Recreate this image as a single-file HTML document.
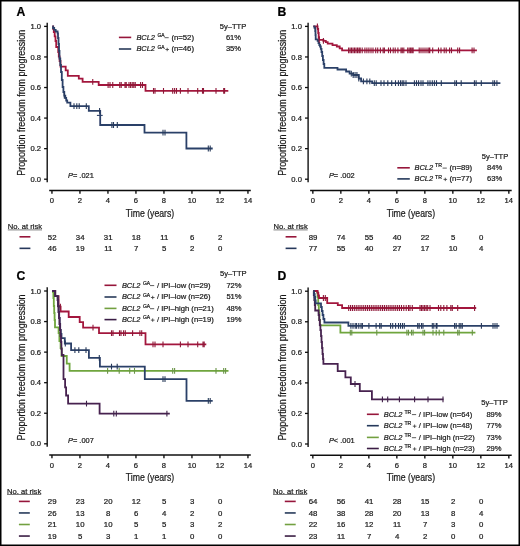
<!DOCTYPE html><html><head><meta charset="utf-8"><style>html,body{margin:0;padding:0;background:#fff}svg{display:block;will-change:transform}text{font-family:"Liberation Sans",sans-serif}</style></head><body>
<svg width="520" height="546" viewBox="0 0 520 546">
<defs><filter id="bl" x="0" y="0" width="1" height="1"><feGaussianBlur stdDeviation="0.3"/></filter></defs>
<rect x="0" y="0" width="520" height="546" fill="#fff"/>
<g filter="url(#bl)">
<line x1="47.20" y1="22.70" x2="47.20" y2="182.20" stroke="#111" stroke-width="1.4"/>
<line x1="44.10" y1="26.40" x2="47.20" y2="26.40" stroke="#111" stroke-width="1.3"/>
<text x="41.00" y="29.00" font-size="7.6" text-anchor="end" fill="#1a1a1a" stroke="#1a1a1a" stroke-width="0.22" >1.0</text>
<line x1="44.10" y1="56.96" x2="47.20" y2="56.96" stroke="#111" stroke-width="1.3"/>
<text x="41.00" y="59.56" font-size="7.6" text-anchor="end" fill="#1a1a1a" stroke="#1a1a1a" stroke-width="0.22" >0.8</text>
<line x1="44.10" y1="87.52" x2="47.20" y2="87.52" stroke="#111" stroke-width="1.3"/>
<text x="41.00" y="90.12" font-size="7.6" text-anchor="end" fill="#1a1a1a" stroke="#1a1a1a" stroke-width="0.22" >0.6</text>
<line x1="44.10" y1="118.08" x2="47.20" y2="118.08" stroke="#111" stroke-width="1.3"/>
<text x="41.00" y="120.68" font-size="7.6" text-anchor="end" fill="#1a1a1a" stroke="#1a1a1a" stroke-width="0.22" >0.4</text>
<line x1="44.10" y1="148.64" x2="47.20" y2="148.64" stroke="#111" stroke-width="1.3"/>
<text x="41.00" y="151.24" font-size="7.6" text-anchor="end" fill="#1a1a1a" stroke="#1a1a1a" stroke-width="0.22" >0.2</text>
<line x1="44.10" y1="179.20" x2="47.20" y2="179.20" stroke="#111" stroke-width="1.3"/>
<text x="41.00" y="181.80" font-size="7.6" text-anchor="end" fill="#1a1a1a" stroke="#1a1a1a" stroke-width="0.22" >0.0</text>
<line x1="49.20" y1="190.45" x2="250.80" y2="190.45" stroke="#111" stroke-width="1.6"/>
<line x1="51.95" y1="190.40" x2="51.95" y2="193.70" stroke="#111" stroke-width="1.4"/>
<text x="51.95" y="203.40" font-size="7.6" text-anchor="middle" fill="#1a1a1a" stroke="#1a1a1a" stroke-width="0.22" >0</text>
<line x1="79.95" y1="190.40" x2="79.95" y2="193.70" stroke="#111" stroke-width="1.4"/>
<text x="79.95" y="203.40" font-size="7.6" text-anchor="middle" fill="#1a1a1a" stroke="#1a1a1a" stroke-width="0.22" >2</text>
<line x1="107.95" y1="190.40" x2="107.95" y2="193.70" stroke="#111" stroke-width="1.4"/>
<text x="107.95" y="203.40" font-size="7.6" text-anchor="middle" fill="#1a1a1a" stroke="#1a1a1a" stroke-width="0.22" >4</text>
<line x1="135.95" y1="190.40" x2="135.95" y2="193.70" stroke="#111" stroke-width="1.4"/>
<text x="135.95" y="203.40" font-size="7.6" text-anchor="middle" fill="#1a1a1a" stroke="#1a1a1a" stroke-width="0.22" >6</text>
<line x1="163.95" y1="190.40" x2="163.95" y2="193.70" stroke="#111" stroke-width="1.4"/>
<text x="163.95" y="203.40" font-size="7.6" text-anchor="middle" fill="#1a1a1a" stroke="#1a1a1a" stroke-width="0.22" >8</text>
<line x1="191.95" y1="190.40" x2="191.95" y2="193.70" stroke="#111" stroke-width="1.4"/>
<text x="191.95" y="203.40" font-size="7.6" text-anchor="middle" fill="#1a1a1a" stroke="#1a1a1a" stroke-width="0.22" >10</text>
<line x1="219.95" y1="190.40" x2="219.95" y2="193.70" stroke="#111" stroke-width="1.4"/>
<text x="219.95" y="203.40" font-size="7.6" text-anchor="middle" fill="#1a1a1a" stroke="#1a1a1a" stroke-width="0.22" >12</text>
<line x1="247.95" y1="190.40" x2="247.95" y2="193.70" stroke="#111" stroke-width="1.4"/>
<text x="247.95" y="203.40" font-size="7.6" text-anchor="middle" fill="#1a1a1a" stroke="#1a1a1a" stroke-width="0.22" >14</text>
<text x="150.00" y="216.50" font-size="10" text-anchor="middle" textLength="48.4" lengthAdjust="spacingAndGlyphs" fill="#1a1a1a" stroke="#1a1a1a" stroke-width="0.22" >Time (years)</text>
<text transform="translate(24.80,102.80) rotate(-90)" font-size="10" text-anchor="middle" textLength="146" lengthAdjust="spacingAndGlyphs" fill="#1a1a1a" stroke="#1a1a1a" stroke-width="0.22">Proportion freedom from progression</text>
<text x="16.60" y="15.60" font-size="12.2" font-weight="bold" fill="#000" stroke="#000" stroke-width="0.22" >A</text>
<text x="219.80" y="28.80" font-size="7.8" textLength="26.5" lengthAdjust="spacingAndGlyphs" fill="#1a1a1a" stroke="#1a1a1a" stroke-width="0.22" >5y&#8211;TTP</text>
<line x1="118.90" y1="37.40" x2="131.20" y2="37.40" stroke="#96143a" stroke-width="1.6"/>
<text x="136.40" y="39.75" font-size="7.8" font-style="italic" textLength="18.6" lengthAdjust="spacingAndGlyphs" fill="#1a1a1a" stroke="#1a1a1a" stroke-width="0.22" >BCL2</text>
<text x="157.40" y="37.00" font-size="5.0" textLength="7.2" lengthAdjust="spacingAndGlyphs" fill="#1a1a1a" stroke="#1a1a1a" stroke-width="0.22" >GA</text>
<line x1="164.50" y1="37.70" x2="168.70" y2="37.70" stroke="#333" stroke-width="0.8"/>
<text x="171.40" y="39.75" font-size="7.8" textLength="22.6" lengthAdjust="spacingAndGlyphs" fill="#1a1a1a" stroke="#1a1a1a" stroke-width="0.22" >(n=52)</text>
<text x="225.90" y="39.75" font-size="7.8" textLength="15.2" lengthAdjust="spacingAndGlyphs" fill="#1a1a1a" stroke="#1a1a1a" stroke-width="0.22" >61%</text>
<line x1="118.90" y1="49.00" x2="131.20" y2="49.00" stroke="#26395a" stroke-width="1.6"/>
<text x="136.40" y="51.35" font-size="7.8" font-style="italic" textLength="18.6" lengthAdjust="spacingAndGlyphs" fill="#1a1a1a" stroke="#1a1a1a" stroke-width="0.22" >BCL2</text>
<text x="157.40" y="48.60" font-size="5.0" textLength="7.2" lengthAdjust="spacingAndGlyphs" fill="#1a1a1a" stroke="#1a1a1a" stroke-width="0.22" >GA</text>
<line x1="165.40" y1="49.50" x2="169.00" y2="49.50" stroke="#333" stroke-width="0.8"/>
<line x1="167.20" y1="47.80" x2="167.20" y2="51.20" stroke="#333" stroke-width="0.8"/>
<text x="171.40" y="51.35" font-size="7.8" textLength="22.6" lengthAdjust="spacingAndGlyphs" fill="#1a1a1a" stroke="#1a1a1a" stroke-width="0.22" >(n=46)</text>
<text x="225.90" y="51.35" font-size="7.8" textLength="15.2" lengthAdjust="spacingAndGlyphs" fill="#1a1a1a" stroke="#1a1a1a" stroke-width="0.22" >35%</text>
<text x="68.00" y="178.20" font-size="7.8" textLength="25.8" lengthAdjust="spacingAndGlyphs" fill="#1a1a1a" stroke="#1a1a1a" stroke-width="0.22" ><tspan font-style="italic">P</tspan>= .021</text>
<path d="M52.30,26.40H53.20V29.00H53.80V32.00H54.70V36.30H55.50V41.00H56.20V47.00H58.20V52.00H58.80V56.50H59.60V61.00H60.50V66.70H65.70V70.40H67.80V75.80H78.80V78.70H82.60V81.80H98.70V85.00H145.50V90.80H228.30" fill="none" stroke="#a3173c" stroke-width="1.8"/>
<path d="M52.30,26.40H53.00V28.00H54.20V29.80H55.70V31.50H57.60V33.50H58.00V38.00H58.50V44.00H59.00V51.00H59.50V58.50H60.30V65.00H61.00V72.00H61.80V80.00H62.60V87.00H63.40V92.00H64.30V95.60H65.30V98.00H66.20V100.50H67.20V102.70H70.40V106.20H88.80V110.80H100.20V125.00H144.50V132.70H186.40V148.50H212.70" fill="none" stroke="#2c4068" stroke-width="1.8"/>
<path d="M92.75,78.90v5.8M108.10,82.10v5.8M110.00,82.10v5.8M112.75,82.10v5.8M119.75,82.10v5.8M121.25,82.10v5.8M125.00,82.10v5.8M126.25,82.10v5.8M129.00,82.10v5.8M130.60,82.10v5.8M132.25,82.10v5.8M133.75,82.10v5.8M135.25,82.10v5.8M140.60,82.10v5.8M142.50,82.10v5.8M153.50,87.90v5.8M155.00,87.90v5.8M163.50,87.90v5.8M172.70,87.90v5.8M174.60,87.90v5.8M176.50,87.90v5.8M180.40,87.90v5.8M188.00,87.90v5.8M197.70,87.90v5.8M202.50,87.90v5.8M203.50,87.90v5.8M216.00,87.90v5.8M223.70,87.90v5.8M224.60,87.90v5.8" fill="none" stroke="#8e1838" stroke-width="1.1"/>
<path d="M64.30,92.70v5.8M74.00,103.30v5.8M76.80,103.30v5.8M79.20,103.30v5.8M86.30,103.30v5.8M99.60,107.90v5.8M111.90,122.10v5.8M113.50,122.10v5.8M117.30,122.10v5.8M163.00,129.80v5.8M165.00,129.80v5.8M208.30,145.60v5.8M210.20,145.60v5.8" fill="none" stroke="#27395a" stroke-width="1.1"/>
<line x1="96.90" y1="115.40" x2="102.70" y2="115.40" stroke="#2c4068" stroke-width="1.1"/>
<text x="7.80" y="229.30" font-size="7.8" textLength="34.2" lengthAdjust="spacingAndGlyphs" fill="#1a1a1a" stroke="#1a1a1a" stroke-width="0.22" >No. at risk</text>
<line x1="7.80" y1="229.90" x2="42.00" y2="229.90" stroke="#444" stroke-width="0.7"/>
<line x1="19.50" y1="236.80" x2="30.40" y2="236.80" stroke="#96143a" stroke-width="1.6"/>
<text x="52.20" y="239.50" font-size="7.8" text-anchor="middle" fill="#1a1a1a" stroke="#1a1a1a" stroke-width="0.22" >52</text>
<text x="80.20" y="239.50" font-size="7.8" text-anchor="middle" fill="#1a1a1a" stroke="#1a1a1a" stroke-width="0.22" >34</text>
<text x="108.20" y="239.50" font-size="7.8" text-anchor="middle" fill="#1a1a1a" stroke="#1a1a1a" stroke-width="0.22" >31</text>
<text x="136.20" y="239.50" font-size="7.8" text-anchor="middle" fill="#1a1a1a" stroke="#1a1a1a" stroke-width="0.22" >18</text>
<text x="164.20" y="239.50" font-size="7.8" text-anchor="middle" fill="#1a1a1a" stroke="#1a1a1a" stroke-width="0.22" >11</text>
<text x="192.20" y="239.50" font-size="7.8" text-anchor="middle" fill="#1a1a1a" stroke="#1a1a1a" stroke-width="0.22" >6</text>
<text x="220.20" y="239.50" font-size="7.8" text-anchor="middle" fill="#1a1a1a" stroke="#1a1a1a" stroke-width="0.22" >2</text>
<line x1="19.50" y1="248.35" x2="30.40" y2="248.35" stroke="#26395a" stroke-width="1.6"/>
<text x="52.20" y="251.05" font-size="7.8" text-anchor="middle" fill="#1a1a1a" stroke="#1a1a1a" stroke-width="0.22" >46</text>
<text x="80.20" y="251.05" font-size="7.8" text-anchor="middle" fill="#1a1a1a" stroke="#1a1a1a" stroke-width="0.22" >19</text>
<text x="108.20" y="251.05" font-size="7.8" text-anchor="middle" fill="#1a1a1a" stroke="#1a1a1a" stroke-width="0.22" >11</text>
<text x="136.20" y="251.05" font-size="7.8" text-anchor="middle" fill="#1a1a1a" stroke="#1a1a1a" stroke-width="0.22" >7</text>
<text x="164.20" y="251.05" font-size="7.8" text-anchor="middle" fill="#1a1a1a" stroke="#1a1a1a" stroke-width="0.22" >5</text>
<text x="192.20" y="251.05" font-size="7.8" text-anchor="middle" fill="#1a1a1a" stroke="#1a1a1a" stroke-width="0.22" >2</text>
<text x="220.20" y="251.05" font-size="7.8" text-anchor="middle" fill="#1a1a1a" stroke="#1a1a1a" stroke-width="0.22" >0</text>
<line x1="308.10" y1="22.70" x2="308.10" y2="182.20" stroke="#111" stroke-width="1.4"/>
<line x1="305.00" y1="26.40" x2="308.10" y2="26.40" stroke="#111" stroke-width="1.3"/>
<text x="301.90" y="29.00" font-size="7.6" text-anchor="end" fill="#1a1a1a" stroke="#1a1a1a" stroke-width="0.22" >1.0</text>
<line x1="305.00" y1="56.96" x2="308.10" y2="56.96" stroke="#111" stroke-width="1.3"/>
<text x="301.90" y="59.56" font-size="7.6" text-anchor="end" fill="#1a1a1a" stroke="#1a1a1a" stroke-width="0.22" >0.8</text>
<line x1="305.00" y1="87.52" x2="308.10" y2="87.52" stroke="#111" stroke-width="1.3"/>
<text x="301.90" y="90.12" font-size="7.6" text-anchor="end" fill="#1a1a1a" stroke="#1a1a1a" stroke-width="0.22" >0.6</text>
<line x1="305.00" y1="118.08" x2="308.10" y2="118.08" stroke="#111" stroke-width="1.3"/>
<text x="301.90" y="120.68" font-size="7.6" text-anchor="end" fill="#1a1a1a" stroke="#1a1a1a" stroke-width="0.22" >0.4</text>
<line x1="305.00" y1="148.64" x2="308.10" y2="148.64" stroke="#111" stroke-width="1.3"/>
<text x="301.90" y="151.24" font-size="7.6" text-anchor="end" fill="#1a1a1a" stroke="#1a1a1a" stroke-width="0.22" >0.2</text>
<line x1="305.00" y1="179.20" x2="308.10" y2="179.20" stroke="#111" stroke-width="1.3"/>
<text x="301.90" y="181.80" font-size="7.6" text-anchor="end" fill="#1a1a1a" stroke="#1a1a1a" stroke-width="0.22" >0.0</text>
<line x1="310.10" y1="190.45" x2="511.70" y2="190.45" stroke="#111" stroke-width="1.6"/>
<line x1="312.85" y1="190.40" x2="312.85" y2="193.70" stroke="#111" stroke-width="1.4"/>
<text x="312.85" y="203.40" font-size="7.6" text-anchor="middle" fill="#1a1a1a" stroke="#1a1a1a" stroke-width="0.22" >0</text>
<line x1="340.85" y1="190.40" x2="340.85" y2="193.70" stroke="#111" stroke-width="1.4"/>
<text x="340.85" y="203.40" font-size="7.6" text-anchor="middle" fill="#1a1a1a" stroke="#1a1a1a" stroke-width="0.22" >2</text>
<line x1="368.85" y1="190.40" x2="368.85" y2="193.70" stroke="#111" stroke-width="1.4"/>
<text x="368.85" y="203.40" font-size="7.6" text-anchor="middle" fill="#1a1a1a" stroke="#1a1a1a" stroke-width="0.22" >4</text>
<line x1="396.85" y1="190.40" x2="396.85" y2="193.70" stroke="#111" stroke-width="1.4"/>
<text x="396.85" y="203.40" font-size="7.6" text-anchor="middle" fill="#1a1a1a" stroke="#1a1a1a" stroke-width="0.22" >6</text>
<line x1="424.85" y1="190.40" x2="424.85" y2="193.70" stroke="#111" stroke-width="1.4"/>
<text x="424.85" y="203.40" font-size="7.6" text-anchor="middle" fill="#1a1a1a" stroke="#1a1a1a" stroke-width="0.22" >8</text>
<line x1="452.85" y1="190.40" x2="452.85" y2="193.70" stroke="#111" stroke-width="1.4"/>
<text x="452.85" y="203.40" font-size="7.6" text-anchor="middle" fill="#1a1a1a" stroke="#1a1a1a" stroke-width="0.22" >10</text>
<line x1="480.85" y1="190.40" x2="480.85" y2="193.70" stroke="#111" stroke-width="1.4"/>
<text x="480.85" y="203.40" font-size="7.6" text-anchor="middle" fill="#1a1a1a" stroke="#1a1a1a" stroke-width="0.22" >12</text>
<line x1="508.85" y1="190.40" x2="508.85" y2="193.70" stroke="#111" stroke-width="1.4"/>
<text x="508.85" y="203.40" font-size="7.6" text-anchor="middle" fill="#1a1a1a" stroke="#1a1a1a" stroke-width="0.22" >14</text>
<text x="410.90" y="216.50" font-size="10" text-anchor="middle" textLength="48.4" lengthAdjust="spacingAndGlyphs" fill="#1a1a1a" stroke="#1a1a1a" stroke-width="0.22" >Time (years)</text>
<text transform="translate(285.70,102.80) rotate(-90)" font-size="10" text-anchor="middle" textLength="146" lengthAdjust="spacingAndGlyphs" fill="#1a1a1a" stroke="#1a1a1a" stroke-width="0.22">Proportion freedom from progression</text>
<text x="277.50" y="15.60" font-size="12.2" font-weight="bold" fill="#000" stroke="#000" stroke-width="0.22" >B</text>
<text x="481.70" y="158.70" font-size="7.8" textLength="26.5" lengthAdjust="spacingAndGlyphs" fill="#1a1a1a" stroke="#1a1a1a" stroke-width="0.22" >5y&#8211;TTP</text>
<line x1="397.30" y1="167.80" x2="409.80" y2="167.80" stroke="#96143a" stroke-width="1.6"/>
<text x="414.50" y="170.15" font-size="7.8" font-style="italic" textLength="18.6" lengthAdjust="spacingAndGlyphs" fill="#1a1a1a" stroke="#1a1a1a" stroke-width="0.22" >BCL2</text>
<text x="435.10" y="167.40" font-size="5.0" textLength="6.9" lengthAdjust="spacingAndGlyphs" fill="#1a1a1a" stroke="#1a1a1a" stroke-width="0.22" >TR</text>
<line x1="442.60" y1="168.10" x2="446.80" y2="168.10" stroke="#333" stroke-width="0.8"/>
<text x="449.50" y="170.15" font-size="7.8" textLength="22.6" lengthAdjust="spacingAndGlyphs" fill="#1a1a1a" stroke="#1a1a1a" stroke-width="0.22" >(n=89)</text>
<text x="487.00" y="170.15" font-size="7.8" textLength="15.2" lengthAdjust="spacingAndGlyphs" fill="#1a1a1a" stroke="#1a1a1a" stroke-width="0.22" >84%</text>
<line x1="397.30" y1="178.90" x2="409.80" y2="178.90" stroke="#26395a" stroke-width="1.6"/>
<text x="414.50" y="181.25" font-size="7.8" font-style="italic" textLength="18.6" lengthAdjust="spacingAndGlyphs" fill="#1a1a1a" stroke="#1a1a1a" stroke-width="0.22" >BCL2</text>
<text x="435.10" y="178.50" font-size="5.0" textLength="6.9" lengthAdjust="spacingAndGlyphs" fill="#1a1a1a" stroke="#1a1a1a" stroke-width="0.22" >TR</text>
<line x1="443.50" y1="179.40" x2="447.10" y2="179.40" stroke="#333" stroke-width="0.8"/>
<line x1="445.30" y1="177.70" x2="445.30" y2="181.10" stroke="#333" stroke-width="0.8"/>
<text x="449.50" y="181.25" font-size="7.8" textLength="22.6" lengthAdjust="spacingAndGlyphs" fill="#1a1a1a" stroke="#1a1a1a" stroke-width="0.22" >(n=77)</text>
<text x="487.00" y="181.25" font-size="7.8" textLength="15.2" lengthAdjust="spacingAndGlyphs" fill="#1a1a1a" stroke="#1a1a1a" stroke-width="0.22" >63%</text>
<text x="328.90" y="178.20" font-size="7.8" textLength="25.8" lengthAdjust="spacingAndGlyphs" fill="#1a1a1a" stroke="#1a1a1a" stroke-width="0.22" ><tspan font-style="italic">P</tspan>= .002</text>
<path d="M313.30,26.40H317.60V29.00H318.20V33.00H318.70V37.00H319.00V39.80H323.40V40.80H325.80V42.20H327.70V43.60H332.50V45.10H336.80V46.50H339.70V48.40H342.10V50.40H476.90" fill="none" stroke="#a3173c" stroke-width="1.8"/>
<path d="M313.30,26.40H314.50V27.80H315.20V31.00H315.50V35.00H315.70V39.30H317.60V40.80H318.50V43.00H319.30V45.00H320.00V46.50H320.80V48.90H321.50V52.00H322.20V56.00H322.90V60.00H323.60V64.00H324.30V67.80H337.50V69.50H346.10V71.50H349.60V73.60H353.10V75.00H358.80V78.50H361.10V81.30H372.10V83.10H500.40" fill="none" stroke="#2c4068" stroke-width="1.8"/>
<path d="M317.40,23.50v5.8M319.20,36.90v5.8M323.40,37.90v5.8M348.60,47.50v5.8M350.09,47.50v5.8M351.57,47.50v5.8M353.06,47.50v5.8M354.54,47.50v5.8M356.03,47.50v5.8M357.51,47.50v5.8M359.00,47.50v5.8M360.20,47.50v5.8M362.20,47.50v5.8M364.90,47.50v5.8M366.90,47.50v5.8M368.90,47.50v5.8M371.00,47.50v5.8M373.00,47.50v5.8M375.70,47.50v5.8M377.70,47.50v5.8M380.40,47.50v5.8M383.10,47.50v5.8M384.40,47.50v5.8M388.50,47.50v5.8M390.50,47.50v5.8M393.20,47.50v5.8M395.20,47.50v5.8M397.90,47.50v5.8M401.00,47.50v5.8M402.30,47.50v5.8M403.80,47.50v5.8M407.70,47.50v5.8M409.20,47.50v5.8M410.60,47.50v5.8M411.90,47.50v5.8M413.10,47.50v5.8M419.20,47.50v5.8M421.00,47.50v5.8M423.00,47.50v5.8M425.00,47.50v5.8M427.00,47.50v5.8M428.80,47.50v5.8M429.80,47.50v5.8M432.70,47.50v5.8M438.50,47.50v5.8M441.00,47.50v5.8M444.20,47.50v5.8M446.20,47.50v5.8M449.60,47.50v5.8M451.50,47.50v5.8M457.70,47.50v5.8M459.60,47.50v5.8M472.10,47.50v5.8M474.00,47.50v5.8" fill="none" stroke="#8e1838" stroke-width="1.1"/>
<path d="M351.30,70.70v5.8M353.18,72.10v5.8M355.05,72.10v5.8M356.93,72.10v5.8M358.80,75.60v5.8M363.40,78.40v5.8M366.90,78.40v5.8M369.80,78.40v5.8M374.30,80.20v5.8M376.20,80.20v5.8M381.00,80.20v5.8M384.00,80.20v5.8M387.80,80.20v5.8M391.70,80.20v5.8M395.50,80.20v5.8M398.40,80.20v5.8M400.50,80.20v5.8M402.20,80.20v5.8M403.80,80.20v5.8M406.00,80.20v5.8M414.40,80.20v5.8M416.50,80.20v5.8M418.60,80.20v5.8M421.00,80.20v5.8M423.00,80.20v5.8M427.90,80.20v5.8M430.00,80.20v5.8M432.30,80.20v5.8M434.40,80.20v5.8M436.50,80.20v5.8M441.30,80.20v5.8M454.80,80.20v5.8M456.50,80.20v5.8M461.20,80.20v5.8M474.40,80.20v5.8M476.10,80.20v5.8M481.30,80.20v5.8M492.90,80.20v5.8M494.60,80.20v5.8M496.90,80.20v5.8" fill="none" stroke="#27395a" stroke-width="1.1"/>
<text x="273.50" y="229.30" font-size="7.8" textLength="34.2" lengthAdjust="spacingAndGlyphs" fill="#1a1a1a" stroke="#1a1a1a" stroke-width="0.22" >No. at risk</text>
<line x1="273.50" y1="229.90" x2="307.70" y2="229.90" stroke="#444" stroke-width="0.7"/>
<line x1="285.60" y1="236.80" x2="296.50" y2="236.80" stroke="#96143a" stroke-width="1.6"/>
<text x="313.10" y="239.50" font-size="7.8" text-anchor="middle" fill="#1a1a1a" stroke="#1a1a1a" stroke-width="0.22" >89</text>
<text x="341.10" y="239.50" font-size="7.8" text-anchor="middle" fill="#1a1a1a" stroke="#1a1a1a" stroke-width="0.22" >74</text>
<text x="369.10" y="239.50" font-size="7.8" text-anchor="middle" fill="#1a1a1a" stroke="#1a1a1a" stroke-width="0.22" >55</text>
<text x="397.10" y="239.50" font-size="7.8" text-anchor="middle" fill="#1a1a1a" stroke="#1a1a1a" stroke-width="0.22" >40</text>
<text x="425.10" y="239.50" font-size="7.8" text-anchor="middle" fill="#1a1a1a" stroke="#1a1a1a" stroke-width="0.22" >22</text>
<text x="453.10" y="239.50" font-size="7.8" text-anchor="middle" fill="#1a1a1a" stroke="#1a1a1a" stroke-width="0.22" >5</text>
<text x="481.10" y="239.50" font-size="7.8" text-anchor="middle" fill="#1a1a1a" stroke="#1a1a1a" stroke-width="0.22" >0</text>
<line x1="285.60" y1="248.35" x2="296.50" y2="248.35" stroke="#26395a" stroke-width="1.6"/>
<text x="313.10" y="251.05" font-size="7.8" text-anchor="middle" fill="#1a1a1a" stroke="#1a1a1a" stroke-width="0.22" >77</text>
<text x="341.10" y="251.05" font-size="7.8" text-anchor="middle" fill="#1a1a1a" stroke="#1a1a1a" stroke-width="0.22" >55</text>
<text x="369.10" y="251.05" font-size="7.8" text-anchor="middle" fill="#1a1a1a" stroke="#1a1a1a" stroke-width="0.22" >40</text>
<text x="397.10" y="251.05" font-size="7.8" text-anchor="middle" fill="#1a1a1a" stroke="#1a1a1a" stroke-width="0.22" >27</text>
<text x="425.10" y="251.05" font-size="7.8" text-anchor="middle" fill="#1a1a1a" stroke="#1a1a1a" stroke-width="0.22" >17</text>
<text x="453.10" y="251.05" font-size="7.8" text-anchor="middle" fill="#1a1a1a" stroke="#1a1a1a" stroke-width="0.22" >10</text>
<text x="481.10" y="251.05" font-size="7.8" text-anchor="middle" fill="#1a1a1a" stroke="#1a1a1a" stroke-width="0.22" >4</text>
<line x1="47.20" y1="287.30" x2="47.20" y2="446.80" stroke="#111" stroke-width="1.4"/>
<line x1="44.10" y1="291.00" x2="47.20" y2="291.00" stroke="#111" stroke-width="1.3"/>
<text x="41.00" y="293.60" font-size="7.6" text-anchor="end" fill="#1a1a1a" stroke="#1a1a1a" stroke-width="0.22" >1.0</text>
<line x1="44.10" y1="321.56" x2="47.20" y2="321.56" stroke="#111" stroke-width="1.3"/>
<text x="41.00" y="324.16" font-size="7.6" text-anchor="end" fill="#1a1a1a" stroke="#1a1a1a" stroke-width="0.22" >0.8</text>
<line x1="44.10" y1="352.12" x2="47.20" y2="352.12" stroke="#111" stroke-width="1.3"/>
<text x="41.00" y="354.72" font-size="7.6" text-anchor="end" fill="#1a1a1a" stroke="#1a1a1a" stroke-width="0.22" >0.6</text>
<line x1="44.10" y1="382.68" x2="47.20" y2="382.68" stroke="#111" stroke-width="1.3"/>
<text x="41.00" y="385.28" font-size="7.6" text-anchor="end" fill="#1a1a1a" stroke="#1a1a1a" stroke-width="0.22" >0.4</text>
<line x1="44.10" y1="413.24" x2="47.20" y2="413.24" stroke="#111" stroke-width="1.3"/>
<text x="41.00" y="415.84" font-size="7.6" text-anchor="end" fill="#1a1a1a" stroke="#1a1a1a" stroke-width="0.22" >0.2</text>
<line x1="44.10" y1="443.80" x2="47.20" y2="443.80" stroke="#111" stroke-width="1.3"/>
<text x="41.00" y="446.40" font-size="7.6" text-anchor="end" fill="#1a1a1a" stroke="#1a1a1a" stroke-width="0.22" >0.0</text>
<line x1="49.20" y1="455.05" x2="250.80" y2="455.05" stroke="#111" stroke-width="1.6"/>
<line x1="51.95" y1="455.00" x2="51.95" y2="458.30" stroke="#111" stroke-width="1.4"/>
<text x="51.95" y="468.00" font-size="7.6" text-anchor="middle" fill="#1a1a1a" stroke="#1a1a1a" stroke-width="0.22" >0</text>
<line x1="79.95" y1="455.00" x2="79.95" y2="458.30" stroke="#111" stroke-width="1.4"/>
<text x="79.95" y="468.00" font-size="7.6" text-anchor="middle" fill="#1a1a1a" stroke="#1a1a1a" stroke-width="0.22" >2</text>
<line x1="107.95" y1="455.00" x2="107.95" y2="458.30" stroke="#111" stroke-width="1.4"/>
<text x="107.95" y="468.00" font-size="7.6" text-anchor="middle" fill="#1a1a1a" stroke="#1a1a1a" stroke-width="0.22" >4</text>
<line x1="135.95" y1="455.00" x2="135.95" y2="458.30" stroke="#111" stroke-width="1.4"/>
<text x="135.95" y="468.00" font-size="7.6" text-anchor="middle" fill="#1a1a1a" stroke="#1a1a1a" stroke-width="0.22" >6</text>
<line x1="163.95" y1="455.00" x2="163.95" y2="458.30" stroke="#111" stroke-width="1.4"/>
<text x="163.95" y="468.00" font-size="7.6" text-anchor="middle" fill="#1a1a1a" stroke="#1a1a1a" stroke-width="0.22" >8</text>
<line x1="191.95" y1="455.00" x2="191.95" y2="458.30" stroke="#111" stroke-width="1.4"/>
<text x="191.95" y="468.00" font-size="7.6" text-anchor="middle" fill="#1a1a1a" stroke="#1a1a1a" stroke-width="0.22" >10</text>
<line x1="219.95" y1="455.00" x2="219.95" y2="458.30" stroke="#111" stroke-width="1.4"/>
<text x="219.95" y="468.00" font-size="7.6" text-anchor="middle" fill="#1a1a1a" stroke="#1a1a1a" stroke-width="0.22" >12</text>
<line x1="247.95" y1="455.00" x2="247.95" y2="458.30" stroke="#111" stroke-width="1.4"/>
<text x="247.95" y="468.00" font-size="7.6" text-anchor="middle" fill="#1a1a1a" stroke="#1a1a1a" stroke-width="0.22" >14</text>
<text x="150.00" y="481.10" font-size="10" text-anchor="middle" textLength="48.4" lengthAdjust="spacingAndGlyphs" fill="#1a1a1a" stroke="#1a1a1a" stroke-width="0.22" >Time (years)</text>
<text transform="translate(24.80,367.40) rotate(-90)" font-size="10" text-anchor="middle" textLength="146" lengthAdjust="spacingAndGlyphs" fill="#1a1a1a" stroke="#1a1a1a" stroke-width="0.22">Proportion freedom from progression</text>
<text x="16.60" y="280.20" font-size="12.2" font-weight="bold" fill="#000" stroke="#000" stroke-width="0.22" >C</text>
<text x="220.10" y="276.40" font-size="7.8" textLength="26.5" lengthAdjust="spacingAndGlyphs" fill="#1a1a1a" stroke="#1a1a1a" stroke-width="0.22" >5y&#8211;TTP</text>
<line x1="104.50" y1="285.30" x2="116.50" y2="285.30" stroke="#96143a" stroke-width="1.6"/>
<text x="121.90" y="287.65" font-size="7.8" font-style="italic" textLength="18.6" lengthAdjust="spacingAndGlyphs" fill="#1a1a1a" stroke="#1a1a1a" stroke-width="0.22" >BCL2</text>
<text x="142.90" y="284.90" font-size="5.0" textLength="7.2" lengthAdjust="spacingAndGlyphs" fill="#1a1a1a" stroke="#1a1a1a" stroke-width="0.22" >GA</text>
<line x1="150.00" y1="285.60" x2="154.20" y2="285.60" stroke="#333" stroke-width="0.8"/>
<text x="156.90" y="287.65" font-size="7.8" textLength="53.7" lengthAdjust="spacingAndGlyphs" fill="#1a1a1a" stroke="#1a1a1a" stroke-width="0.22" >/ IPI&#8211;low (n=29)</text>
<text x="226.40" y="287.65" font-size="7.8" textLength="15.2" lengthAdjust="spacingAndGlyphs" fill="#1a1a1a" stroke="#1a1a1a" stroke-width="0.22" >72%</text>
<line x1="104.50" y1="297.00" x2="116.50" y2="297.00" stroke="#26395a" stroke-width="1.6"/>
<text x="121.90" y="299.35" font-size="7.8" font-style="italic" textLength="18.6" lengthAdjust="spacingAndGlyphs" fill="#1a1a1a" stroke="#1a1a1a" stroke-width="0.22" >BCL2</text>
<text x="142.90" y="296.60" font-size="5.0" textLength="7.2" lengthAdjust="spacingAndGlyphs" fill="#1a1a1a" stroke="#1a1a1a" stroke-width="0.22" >GA</text>
<line x1="150.90" y1="297.50" x2="154.50" y2="297.50" stroke="#333" stroke-width="0.8"/>
<line x1="152.70" y1="295.80" x2="152.70" y2="299.20" stroke="#333" stroke-width="0.8"/>
<text x="156.90" y="299.35" font-size="7.8" textLength="53.7" lengthAdjust="spacingAndGlyphs" fill="#1a1a1a" stroke="#1a1a1a" stroke-width="0.22" >/ IPI&#8211;low (n=26)</text>
<text x="226.40" y="299.35" font-size="7.8" textLength="15.2" lengthAdjust="spacingAndGlyphs" fill="#1a1a1a" stroke="#1a1a1a" stroke-width="0.22" >51%</text>
<line x1="104.50" y1="308.40" x2="116.50" y2="308.40" stroke="#72a040" stroke-width="1.6"/>
<text x="121.90" y="310.75" font-size="7.8" font-style="italic" textLength="18.6" lengthAdjust="spacingAndGlyphs" fill="#1a1a1a" stroke="#1a1a1a" stroke-width="0.22" >BCL2</text>
<text x="142.90" y="308.00" font-size="5.0" textLength="7.2" lengthAdjust="spacingAndGlyphs" fill="#1a1a1a" stroke="#1a1a1a" stroke-width="0.22" >GA</text>
<line x1="150.00" y1="308.70" x2="154.20" y2="308.70" stroke="#333" stroke-width="0.8"/>
<text x="156.90" y="310.75" font-size="7.8" textLength="56.8" lengthAdjust="spacingAndGlyphs" fill="#1a1a1a" stroke="#1a1a1a" stroke-width="0.22" >/ IPI&#8211;high (n=21)</text>
<text x="226.40" y="310.75" font-size="7.8" textLength="15.2" lengthAdjust="spacingAndGlyphs" fill="#1a1a1a" stroke="#1a1a1a" stroke-width="0.22" >48%</text>
<line x1="104.50" y1="319.60" x2="116.50" y2="319.60" stroke="#3a1d44" stroke-width="1.6"/>
<text x="121.90" y="321.95" font-size="7.8" font-style="italic" textLength="18.6" lengthAdjust="spacingAndGlyphs" fill="#1a1a1a" stroke="#1a1a1a" stroke-width="0.22" >BCL2</text>
<text x="142.90" y="319.20" font-size="5.0" textLength="7.2" lengthAdjust="spacingAndGlyphs" fill="#1a1a1a" stroke="#1a1a1a" stroke-width="0.22" >GA</text>
<line x1="150.90" y1="320.10" x2="154.50" y2="320.10" stroke="#333" stroke-width="0.8"/>
<line x1="152.70" y1="318.40" x2="152.70" y2="321.80" stroke="#333" stroke-width="0.8"/>
<text x="156.90" y="321.95" font-size="7.8" textLength="56.8" lengthAdjust="spacingAndGlyphs" fill="#1a1a1a" stroke="#1a1a1a" stroke-width="0.22" >/ IPI&#8211;high (n=19)</text>
<text x="226.40" y="321.95" font-size="7.8" textLength="15.2" lengthAdjust="spacingAndGlyphs" fill="#1a1a1a" stroke="#1a1a1a" stroke-width="0.22" >19%</text>
<text x="68.00" y="442.60" font-size="7.8" textLength="25.8" lengthAdjust="spacingAndGlyphs" fill="#1a1a1a" stroke="#1a1a1a" stroke-width="0.22" ><tspan font-style="italic">P</tspan>= .007</text>
<path d="M52.30,291.00H53.00V292.00H53.40V298.00H53.80V306.00H54.20V313.00H54.60V320.00H55.00V327.30H58.60V333.00H59.40V341.00H60.60V348.00H61.60V356.00H66.75V363.70H69.60V370.90H228.50" fill="none" stroke="#6fa53c" stroke-width="1.8"/>
<path d="M52.30,291.00H55.20V296.10H58.60V306.70H60.60V311.50H68.70V317.00H79.70V322.20H83.10V327.60H99.00V333.10H145.50V344.40H206.30" fill="none" stroke="#a3173c" stroke-width="1.8"/>
<path d="M52.30,291.00H55.20V296.10H57.80V300.00H58.20V306.00H58.70V312.00H59.20V318.00H59.70V324.00H60.20V330.00H60.80V334.00H61.50V338.20H64.80V343.50H71.10V350.20H88.90V357.90H99.90V366.60H144.80V379.20H186.50V400.80H212.70" fill="none" stroke="#2c4068" stroke-width="1.8"/>
<path d="M52.30,291.00H55.20V296.10H57.60V300.00H58.00V306.00H58.50V312.00H59.00V318.00H59.50V324.00H60.00V330.00H60.50V336.00H61.00V342.00H61.40V349.00H61.80V355.00H63.50V379.10H65.10V387.30H66.10V395.50H68.10V403.60H99.60V413.70H169.80" fill="none" stroke="#472250" stroke-width="1.8"/>
<path d="M60.40,303.80v5.8M93.00,324.70v5.8M111.50,330.20v5.8M113.00,330.20v5.8M119.50,330.20v5.8M121.00,330.20v5.8M123.60,330.20v5.8M125.30,330.20v5.8M132.60,330.20v5.8M139.90,330.20v5.8M141.70,330.20v5.8M153.00,341.50v5.8M155.00,341.50v5.8M163.00,341.50v5.8M180.40,341.50v5.8M188.00,341.50v5.8M197.70,341.50v5.8M203.00,341.50v5.8M204.20,341.50v5.8" fill="none" stroke="#8e1838" stroke-width="1.1"/>
<path d="M65.30,340.60v5.8M74.90,347.30v5.8M78.80,347.30v5.8M86.00,347.30v5.8M99.30,355.00v5.8M111.50,363.70v5.8M117.20,363.70v5.8M163.00,376.30v5.8M165.00,376.30v5.8M208.30,397.90v5.8M210.20,397.90v5.8" fill="none" stroke="#27395a" stroke-width="1.1"/>
<path d="M107.60,368.00v5.8M119.20,368.00v5.8M129.70,368.00v5.8M134.50,368.00v5.8M172.70,368.00v5.8M174.60,368.00v5.8M216.00,368.00v5.8M223.70,368.00v5.8M225.60,368.00v5.8" fill="none" stroke="#6a9448" stroke-width="1.1"/>
<path d="M86.50,400.70v5.8M113.80,410.80v5.8M116.30,410.80v5.8M166.90,410.80v5.8" fill="none" stroke="#3e2048" stroke-width="1.1"/>
<text x="7.00" y="493.90" font-size="7.8" textLength="34.2" lengthAdjust="spacingAndGlyphs" fill="#1a1a1a" stroke="#1a1a1a" stroke-width="0.22" >No. at risk</text>
<line x1="7.00" y1="494.50" x2="41.20" y2="494.50" stroke="#444" stroke-width="0.7"/>
<line x1="18.90" y1="501.40" x2="29.80" y2="501.40" stroke="#96143a" stroke-width="1.6"/>
<text x="52.20" y="504.10" font-size="7.8" text-anchor="middle" fill="#1a1a1a" stroke="#1a1a1a" stroke-width="0.22" >29</text>
<text x="80.20" y="504.10" font-size="7.8" text-anchor="middle" fill="#1a1a1a" stroke="#1a1a1a" stroke-width="0.22" >23</text>
<text x="108.20" y="504.10" font-size="7.8" text-anchor="middle" fill="#1a1a1a" stroke="#1a1a1a" stroke-width="0.22" >20</text>
<text x="136.20" y="504.10" font-size="7.8" text-anchor="middle" fill="#1a1a1a" stroke="#1a1a1a" stroke-width="0.22" >12</text>
<text x="164.20" y="504.10" font-size="7.8" text-anchor="middle" fill="#1a1a1a" stroke="#1a1a1a" stroke-width="0.22" >5</text>
<text x="192.20" y="504.10" font-size="7.8" text-anchor="middle" fill="#1a1a1a" stroke="#1a1a1a" stroke-width="0.22" >3</text>
<text x="220.20" y="504.10" font-size="7.8" text-anchor="middle" fill="#1a1a1a" stroke="#1a1a1a" stroke-width="0.22" >0</text>
<line x1="18.90" y1="512.95" x2="29.80" y2="512.95" stroke="#26395a" stroke-width="1.6"/>
<text x="52.20" y="515.65" font-size="7.8" text-anchor="middle" fill="#1a1a1a" stroke="#1a1a1a" stroke-width="0.22" >26</text>
<text x="80.20" y="515.65" font-size="7.8" text-anchor="middle" fill="#1a1a1a" stroke="#1a1a1a" stroke-width="0.22" >13</text>
<text x="108.20" y="515.65" font-size="7.8" text-anchor="middle" fill="#1a1a1a" stroke="#1a1a1a" stroke-width="0.22" >8</text>
<text x="136.20" y="515.65" font-size="7.8" text-anchor="middle" fill="#1a1a1a" stroke="#1a1a1a" stroke-width="0.22" >6</text>
<text x="164.20" y="515.65" font-size="7.8" text-anchor="middle" fill="#1a1a1a" stroke="#1a1a1a" stroke-width="0.22" >4</text>
<text x="192.20" y="515.65" font-size="7.8" text-anchor="middle" fill="#1a1a1a" stroke="#1a1a1a" stroke-width="0.22" >2</text>
<text x="220.20" y="515.65" font-size="7.8" text-anchor="middle" fill="#1a1a1a" stroke="#1a1a1a" stroke-width="0.22" >0</text>
<line x1="18.90" y1="524.50" x2="29.80" y2="524.50" stroke="#72a040" stroke-width="1.6"/>
<text x="52.20" y="527.20" font-size="7.8" text-anchor="middle" fill="#1a1a1a" stroke="#1a1a1a" stroke-width="0.22" >21</text>
<text x="80.20" y="527.20" font-size="7.8" text-anchor="middle" fill="#1a1a1a" stroke="#1a1a1a" stroke-width="0.22" >10</text>
<text x="108.20" y="527.20" font-size="7.8" text-anchor="middle" fill="#1a1a1a" stroke="#1a1a1a" stroke-width="0.22" >10</text>
<text x="136.20" y="527.20" font-size="7.8" text-anchor="middle" fill="#1a1a1a" stroke="#1a1a1a" stroke-width="0.22" >5</text>
<text x="164.20" y="527.20" font-size="7.8" text-anchor="middle" fill="#1a1a1a" stroke="#1a1a1a" stroke-width="0.22" >5</text>
<text x="192.20" y="527.20" font-size="7.8" text-anchor="middle" fill="#1a1a1a" stroke="#1a1a1a" stroke-width="0.22" >3</text>
<text x="220.20" y="527.20" font-size="7.8" text-anchor="middle" fill="#1a1a1a" stroke="#1a1a1a" stroke-width="0.22" >2</text>
<line x1="18.90" y1="536.05" x2="29.80" y2="536.05" stroke="#3a1d44" stroke-width="1.6"/>
<text x="52.20" y="538.75" font-size="7.8" text-anchor="middle" fill="#1a1a1a" stroke="#1a1a1a" stroke-width="0.22" >19</text>
<text x="80.20" y="538.75" font-size="7.8" text-anchor="middle" fill="#1a1a1a" stroke="#1a1a1a" stroke-width="0.22" >5</text>
<text x="108.20" y="538.75" font-size="7.8" text-anchor="middle" fill="#1a1a1a" stroke="#1a1a1a" stroke-width="0.22" >3</text>
<text x="136.20" y="538.75" font-size="7.8" text-anchor="middle" fill="#1a1a1a" stroke="#1a1a1a" stroke-width="0.22" >1</text>
<text x="164.20" y="538.75" font-size="7.8" text-anchor="middle" fill="#1a1a1a" stroke="#1a1a1a" stroke-width="0.22" >1</text>
<text x="192.20" y="538.75" font-size="7.8" text-anchor="middle" fill="#1a1a1a" stroke="#1a1a1a" stroke-width="0.22" >0</text>
<text x="220.20" y="538.75" font-size="7.8" text-anchor="middle" fill="#1a1a1a" stroke="#1a1a1a" stroke-width="0.22" >0</text>
<line x1="308.10" y1="287.50" x2="308.10" y2="447.00" stroke="#111" stroke-width="1.4"/>
<line x1="305.00" y1="291.20" x2="308.10" y2="291.20" stroke="#111" stroke-width="1.3"/>
<text x="301.90" y="293.80" font-size="7.6" text-anchor="end" fill="#1a1a1a" stroke="#1a1a1a" stroke-width="0.22" >1.0</text>
<line x1="305.00" y1="321.76" x2="308.10" y2="321.76" stroke="#111" stroke-width="1.3"/>
<text x="301.90" y="324.36" font-size="7.6" text-anchor="end" fill="#1a1a1a" stroke="#1a1a1a" stroke-width="0.22" >0.8</text>
<line x1="305.00" y1="352.32" x2="308.10" y2="352.32" stroke="#111" stroke-width="1.3"/>
<text x="301.90" y="354.92" font-size="7.6" text-anchor="end" fill="#1a1a1a" stroke="#1a1a1a" stroke-width="0.22" >0.6</text>
<line x1="305.00" y1="382.88" x2="308.10" y2="382.88" stroke="#111" stroke-width="1.3"/>
<text x="301.90" y="385.48" font-size="7.6" text-anchor="end" fill="#1a1a1a" stroke="#1a1a1a" stroke-width="0.22" >0.4</text>
<line x1="305.00" y1="413.44" x2="308.10" y2="413.44" stroke="#111" stroke-width="1.3"/>
<text x="301.90" y="416.04" font-size="7.6" text-anchor="end" fill="#1a1a1a" stroke="#1a1a1a" stroke-width="0.22" >0.2</text>
<line x1="305.00" y1="444.00" x2="308.10" y2="444.00" stroke="#111" stroke-width="1.3"/>
<text x="301.90" y="446.60" font-size="7.6" text-anchor="end" fill="#1a1a1a" stroke="#1a1a1a" stroke-width="0.22" >0.0</text>
<line x1="310.10" y1="455.25" x2="511.70" y2="455.25" stroke="#111" stroke-width="1.6"/>
<line x1="312.85" y1="455.20" x2="312.85" y2="458.50" stroke="#111" stroke-width="1.4"/>
<text x="312.85" y="468.20" font-size="7.6" text-anchor="middle" fill="#1a1a1a" stroke="#1a1a1a" stroke-width="0.22" >0</text>
<line x1="340.85" y1="455.20" x2="340.85" y2="458.50" stroke="#111" stroke-width="1.4"/>
<text x="340.85" y="468.20" font-size="7.6" text-anchor="middle" fill="#1a1a1a" stroke="#1a1a1a" stroke-width="0.22" >2</text>
<line x1="368.85" y1="455.20" x2="368.85" y2="458.50" stroke="#111" stroke-width="1.4"/>
<text x="368.85" y="468.20" font-size="7.6" text-anchor="middle" fill="#1a1a1a" stroke="#1a1a1a" stroke-width="0.22" >4</text>
<line x1="396.85" y1="455.20" x2="396.85" y2="458.50" stroke="#111" stroke-width="1.4"/>
<text x="396.85" y="468.20" font-size="7.6" text-anchor="middle" fill="#1a1a1a" stroke="#1a1a1a" stroke-width="0.22" >6</text>
<line x1="424.85" y1="455.20" x2="424.85" y2="458.50" stroke="#111" stroke-width="1.4"/>
<text x="424.85" y="468.20" font-size="7.6" text-anchor="middle" fill="#1a1a1a" stroke="#1a1a1a" stroke-width="0.22" >8</text>
<line x1="452.85" y1="455.20" x2="452.85" y2="458.50" stroke="#111" stroke-width="1.4"/>
<text x="452.85" y="468.20" font-size="7.6" text-anchor="middle" fill="#1a1a1a" stroke="#1a1a1a" stroke-width="0.22" >10</text>
<line x1="480.85" y1="455.20" x2="480.85" y2="458.50" stroke="#111" stroke-width="1.4"/>
<text x="480.85" y="468.20" font-size="7.6" text-anchor="middle" fill="#1a1a1a" stroke="#1a1a1a" stroke-width="0.22" >12</text>
<line x1="508.85" y1="455.20" x2="508.85" y2="458.50" stroke="#111" stroke-width="1.4"/>
<text x="508.85" y="468.20" font-size="7.6" text-anchor="middle" fill="#1a1a1a" stroke="#1a1a1a" stroke-width="0.22" >14</text>
<text x="410.90" y="481.30" font-size="10" text-anchor="middle" textLength="48.4" lengthAdjust="spacingAndGlyphs" fill="#1a1a1a" stroke="#1a1a1a" stroke-width="0.22" >Time (years)</text>
<text transform="translate(285.70,367.60) rotate(-90)" font-size="10" text-anchor="middle" textLength="146" lengthAdjust="spacingAndGlyphs" fill="#1a1a1a" stroke="#1a1a1a" stroke-width="0.22">Proportion freedom from progression</text>
<text x="277.50" y="280.40" font-size="12.2" font-weight="bold" fill="#000" stroke="#000" stroke-width="0.22" >D</text>
<text x="481.20" y="405.40" font-size="7.8" textLength="26.5" lengthAdjust="spacingAndGlyphs" fill="#1a1a1a" stroke="#1a1a1a" stroke-width="0.22" >5y&#8211;TTP</text>
<line x1="366.90" y1="414.30" x2="378.80" y2="414.30" stroke="#96143a" stroke-width="1.6"/>
<text x="383.80" y="416.65" font-size="7.8" font-style="italic" textLength="18.6" lengthAdjust="spacingAndGlyphs" fill="#1a1a1a" stroke="#1a1a1a" stroke-width="0.22" >BCL2</text>
<text x="404.40" y="413.90" font-size="5.0" textLength="6.9" lengthAdjust="spacingAndGlyphs" fill="#1a1a1a" stroke="#1a1a1a" stroke-width="0.22" >TR</text>
<line x1="411.90" y1="414.60" x2="416.10" y2="414.60" stroke="#333" stroke-width="0.8"/>
<text x="418.80" y="416.65" font-size="7.8" textLength="53.4" lengthAdjust="spacingAndGlyphs" fill="#1a1a1a" stroke="#1a1a1a" stroke-width="0.22" >/ IPI&#8211;low (n=64)</text>
<text x="486.40" y="416.65" font-size="7.8" textLength="15.2" lengthAdjust="spacingAndGlyphs" fill="#1a1a1a" stroke="#1a1a1a" stroke-width="0.22" >89%</text>
<line x1="366.90" y1="425.70" x2="378.80" y2="425.70" stroke="#26395a" stroke-width="1.6"/>
<text x="383.80" y="428.05" font-size="7.8" font-style="italic" textLength="18.6" lengthAdjust="spacingAndGlyphs" fill="#1a1a1a" stroke="#1a1a1a" stroke-width="0.22" >BCL2</text>
<text x="404.40" y="425.30" font-size="5.0" textLength="6.9" lengthAdjust="spacingAndGlyphs" fill="#1a1a1a" stroke="#1a1a1a" stroke-width="0.22" >TR</text>
<line x1="412.80" y1="426.20" x2="416.40" y2="426.20" stroke="#333" stroke-width="0.8"/>
<line x1="414.60" y1="424.50" x2="414.60" y2="427.90" stroke="#333" stroke-width="0.8"/>
<text x="418.80" y="428.05" font-size="7.8" textLength="53.4" lengthAdjust="spacingAndGlyphs" fill="#1a1a1a" stroke="#1a1a1a" stroke-width="0.22" >/ IPI&#8211;low (n=48)</text>
<text x="486.40" y="428.05" font-size="7.8" textLength="15.2" lengthAdjust="spacingAndGlyphs" fill="#1a1a1a" stroke="#1a1a1a" stroke-width="0.22" >77%</text>
<line x1="366.90" y1="437.40" x2="378.80" y2="437.40" stroke="#72a040" stroke-width="1.6"/>
<text x="383.80" y="439.75" font-size="7.8" font-style="italic" textLength="18.6" lengthAdjust="spacingAndGlyphs" fill="#1a1a1a" stroke="#1a1a1a" stroke-width="0.22" >BCL2</text>
<text x="404.40" y="437.00" font-size="5.0" textLength="6.9" lengthAdjust="spacingAndGlyphs" fill="#1a1a1a" stroke="#1a1a1a" stroke-width="0.22" >TR</text>
<line x1="411.90" y1="437.70" x2="416.10" y2="437.70" stroke="#333" stroke-width="0.8"/>
<text x="418.80" y="439.75" font-size="7.8" textLength="55.9" lengthAdjust="spacingAndGlyphs" fill="#1a1a1a" stroke="#1a1a1a" stroke-width="0.22" >/ IPI&#8211;high (n=22)</text>
<text x="486.40" y="439.75" font-size="7.8" textLength="15.2" lengthAdjust="spacingAndGlyphs" fill="#1a1a1a" stroke="#1a1a1a" stroke-width="0.22" >73%</text>
<line x1="366.90" y1="448.50" x2="378.80" y2="448.50" stroke="#3a1d44" stroke-width="1.6"/>
<text x="383.80" y="450.85" font-size="7.8" font-style="italic" textLength="18.6" lengthAdjust="spacingAndGlyphs" fill="#1a1a1a" stroke="#1a1a1a" stroke-width="0.22" >BCL2</text>
<text x="404.40" y="448.10" font-size="5.0" textLength="6.9" lengthAdjust="spacingAndGlyphs" fill="#1a1a1a" stroke="#1a1a1a" stroke-width="0.22" >TR</text>
<line x1="412.80" y1="449.00" x2="416.40" y2="449.00" stroke="#333" stroke-width="0.8"/>
<line x1="414.60" y1="447.30" x2="414.60" y2="450.70" stroke="#333" stroke-width="0.8"/>
<text x="418.80" y="450.85" font-size="7.8" textLength="55.9" lengthAdjust="spacingAndGlyphs" fill="#1a1a1a" stroke="#1a1a1a" stroke-width="0.22" >/ IPI&#8211;high (n=23)</text>
<text x="486.40" y="450.85" font-size="7.8" textLength="15.2" lengthAdjust="spacingAndGlyphs" fill="#1a1a1a" stroke="#1a1a1a" stroke-width="0.22" >29%</text>
<text x="328.90" y="442.60" font-size="7.8" textLength="25.8" lengthAdjust="spacingAndGlyphs" fill="#1a1a1a" stroke="#1a1a1a" stroke-width="0.22" ><tspan font-style="italic">P</tspan>&lt; .001</text>
<path d="M313.30,291.00H317.10V292.00H317.60V297.00H318.20V305.00H318.80V313.00H319.40V320.00H320.00V325.40H340.40V332.60H475.40" fill="none" stroke="#6fa53c" stroke-width="1.8"/>
<path d="M313.30,291.00H313.80V295.00H314.30V300.00H314.80V305.00H315.20V310.50H318.60V315.00H319.20V320.00H319.80V325.00H320.40V330.20H321.00V336.00H321.50V342.00H322.00V348.00H322.50V354.00H323.00V359.00H323.40V363.80H337.70V371.20H345.40V377.30H350.80V384.00H359.80V391.20H371.90V399.40H443.50" fill="none" stroke="#472250" stroke-width="1.8"/>
<path d="M313.30,291.00H317.60V293.00H318.30V295.50H319.00V298.00H327.20V303.10H337.80V305.20H342.10V308.00H476.20" fill="none" stroke="#a3173c" stroke-width="1.8"/>
<path d="M313.30,291.00H314.00V294.00H314.60V297.00H315.20V300.50H315.70V303.30H321.00V307.00H321.80V311.00H322.60V315.00H323.40V319.00H324.40V322.50H348.40V325.80H499.40" fill="none" stroke="#2c4068" stroke-width="1.8"/>
<path d="M323.40,295.10v5.8M325.30,295.10v5.8M348.70,305.10v5.8M350.58,305.10v5.8M352.46,305.10v5.8M354.34,305.10v5.8M356.23,305.10v5.8M358.11,305.10v5.8M359.99,305.10v5.8M361.87,305.10v5.8M363.75,305.10v5.8M365.63,305.10v5.8M367.51,305.10v5.8M369.40,305.10v5.8M371.28,305.10v5.8M373.16,305.10v5.8M375.04,305.10v5.8M376.92,305.10v5.8M378.80,305.10v5.8M380.69,305.10v5.8M382.57,305.10v5.8M384.45,305.10v5.8M386.33,305.10v5.8M388.21,305.10v5.8M390.09,305.10v5.8M391.97,305.10v5.8M393.86,305.10v5.8M395.74,305.10v5.8M397.62,305.10v5.8M399.50,305.10v5.8M401.50,305.10v5.8M403.80,305.10v5.8M406.20,305.10v5.8M408.50,305.10v5.8M410.00,305.10v5.8M412.30,305.10v5.8M420.00,305.10v5.8M421.50,305.10v5.8M423.00,305.10v5.8M424.60,305.10v5.8M426.20,305.10v5.8M427.70,305.10v5.8M430.00,305.10v5.8M438.50,305.10v5.8M440.80,305.10v5.8M443.80,305.10v5.8M446.90,305.10v5.8M450.80,305.10v5.8M452.30,305.10v5.8M457.70,305.10v5.8M474.60,305.10v5.8" fill="none" stroke="#8e1838" stroke-width="1.1"/>
<path d="M350.90,322.90v5.8M353.00,322.90v5.8M355.20,322.90v5.8M356.60,322.90v5.8M358.80,322.90v5.8M361.00,322.90v5.8M362.40,322.90v5.8M368.90,322.90v5.8M376.10,322.90v5.8M379.70,322.90v5.8M381.20,322.90v5.8M390.60,322.90v5.8M392.70,322.90v5.8M395.60,322.90v5.8M398.50,322.90v5.8M400.50,322.90v5.8M402.50,322.90v5.8M404.30,322.90v5.8M417.70,322.90v5.8M419.20,322.90v5.8M421.50,322.90v5.8M423.00,322.90v5.8M432.30,322.90v5.8M433.80,322.90v5.8M436.20,322.90v5.8M437.00,322.90v5.8M454.60,322.90v5.8M456.20,322.90v5.8M459.20,322.90v5.8M460.80,322.90v5.8M462.30,322.90v5.8M481.40,322.90v5.8M493.00,322.90v5.8M495.00,322.90v5.8M497.00,322.90v5.8" fill="none" stroke="#27395a" stroke-width="1.1"/>
<path d="M350.30,329.70v5.8M351.80,329.70v5.8M376.80,329.70v5.8M406.90,329.70v5.8M408.50,329.70v5.8M411.50,329.70v5.8M413.10,329.70v5.8M423.00,329.70v5.8M424.60,329.70v5.8M433.00,329.70v5.8M436.20,329.70v5.8M439.20,329.70v5.8M443.80,329.70v5.8M457.70,329.70v5.8M459.20,329.70v5.8M472.30,329.70v5.8" fill="none" stroke="#6a9448" stroke-width="1.1"/>
<path d="M355.00,381.10v5.8M382.40,396.50v5.8M387.70,396.50v5.8M399.40,396.50v5.8M414.60,396.50v5.8M428.00,396.50v5.8M443.00,396.50v5.8" fill="none" stroke="#3e2048" stroke-width="1.1"/>
<text x="273.00" y="493.90" font-size="7.8" textLength="34.2" lengthAdjust="spacingAndGlyphs" fill="#1a1a1a" stroke="#1a1a1a" stroke-width="0.22" >No. at risk</text>
<line x1="273.00" y1="494.50" x2="307.20" y2="494.50" stroke="#444" stroke-width="0.7"/>
<line x1="284.80" y1="501.40" x2="295.70" y2="501.40" stroke="#96143a" stroke-width="1.6"/>
<text x="313.10" y="504.10" font-size="7.8" text-anchor="middle" fill="#1a1a1a" stroke="#1a1a1a" stroke-width="0.22" >64</text>
<text x="341.10" y="504.10" font-size="7.8" text-anchor="middle" fill="#1a1a1a" stroke="#1a1a1a" stroke-width="0.22" >56</text>
<text x="369.10" y="504.10" font-size="7.8" text-anchor="middle" fill="#1a1a1a" stroke="#1a1a1a" stroke-width="0.22" >41</text>
<text x="397.10" y="504.10" font-size="7.8" text-anchor="middle" fill="#1a1a1a" stroke="#1a1a1a" stroke-width="0.22" >28</text>
<text x="425.10" y="504.10" font-size="7.8" text-anchor="middle" fill="#1a1a1a" stroke="#1a1a1a" stroke-width="0.22" >15</text>
<text x="453.10" y="504.10" font-size="7.8" text-anchor="middle" fill="#1a1a1a" stroke="#1a1a1a" stroke-width="0.22" >2</text>
<text x="481.10" y="504.10" font-size="7.8" text-anchor="middle" fill="#1a1a1a" stroke="#1a1a1a" stroke-width="0.22" >0</text>
<line x1="284.80" y1="512.95" x2="295.70" y2="512.95" stroke="#26395a" stroke-width="1.6"/>
<text x="313.10" y="515.65" font-size="7.8" text-anchor="middle" fill="#1a1a1a" stroke="#1a1a1a" stroke-width="0.22" >48</text>
<text x="341.10" y="515.65" font-size="7.8" text-anchor="middle" fill="#1a1a1a" stroke="#1a1a1a" stroke-width="0.22" >38</text>
<text x="369.10" y="515.65" font-size="7.8" text-anchor="middle" fill="#1a1a1a" stroke="#1a1a1a" stroke-width="0.22" >28</text>
<text x="397.10" y="515.65" font-size="7.8" text-anchor="middle" fill="#1a1a1a" stroke="#1a1a1a" stroke-width="0.22" >20</text>
<text x="425.10" y="515.65" font-size="7.8" text-anchor="middle" fill="#1a1a1a" stroke="#1a1a1a" stroke-width="0.22" >13</text>
<text x="453.10" y="515.65" font-size="7.8" text-anchor="middle" fill="#1a1a1a" stroke="#1a1a1a" stroke-width="0.22" >8</text>
<text x="481.10" y="515.65" font-size="7.8" text-anchor="middle" fill="#1a1a1a" stroke="#1a1a1a" stroke-width="0.22" >4</text>
<line x1="284.80" y1="524.50" x2="295.70" y2="524.50" stroke="#72a040" stroke-width="1.6"/>
<text x="313.10" y="527.20" font-size="7.8" text-anchor="middle" fill="#1a1a1a" stroke="#1a1a1a" stroke-width="0.22" >22</text>
<text x="341.10" y="527.20" font-size="7.8" text-anchor="middle" fill="#1a1a1a" stroke="#1a1a1a" stroke-width="0.22" >16</text>
<text x="369.10" y="527.20" font-size="7.8" text-anchor="middle" fill="#1a1a1a" stroke="#1a1a1a" stroke-width="0.22" >12</text>
<text x="397.10" y="527.20" font-size="7.8" text-anchor="middle" fill="#1a1a1a" stroke="#1a1a1a" stroke-width="0.22" >11</text>
<text x="425.10" y="527.20" font-size="7.8" text-anchor="middle" fill="#1a1a1a" stroke="#1a1a1a" stroke-width="0.22" >7</text>
<text x="453.10" y="527.20" font-size="7.8" text-anchor="middle" fill="#1a1a1a" stroke="#1a1a1a" stroke-width="0.22" >3</text>
<text x="481.10" y="527.20" font-size="7.8" text-anchor="middle" fill="#1a1a1a" stroke="#1a1a1a" stroke-width="0.22" >0</text>
<line x1="284.80" y1="536.05" x2="295.70" y2="536.05" stroke="#3a1d44" stroke-width="1.6"/>
<text x="313.10" y="538.75" font-size="7.8" text-anchor="middle" fill="#1a1a1a" stroke="#1a1a1a" stroke-width="0.22" >23</text>
<text x="341.10" y="538.75" font-size="7.8" text-anchor="middle" fill="#1a1a1a" stroke="#1a1a1a" stroke-width="0.22" >11</text>
<text x="369.10" y="538.75" font-size="7.8" text-anchor="middle" fill="#1a1a1a" stroke="#1a1a1a" stroke-width="0.22" >7</text>
<text x="397.10" y="538.75" font-size="7.8" text-anchor="middle" fill="#1a1a1a" stroke="#1a1a1a" stroke-width="0.22" >4</text>
<text x="425.10" y="538.75" font-size="7.8" text-anchor="middle" fill="#1a1a1a" stroke="#1a1a1a" stroke-width="0.22" >2</text>
<text x="453.10" y="538.75" font-size="7.8" text-anchor="middle" fill="#1a1a1a" stroke="#1a1a1a" stroke-width="0.22" >0</text>
<text x="481.10" y="538.75" font-size="7.8" text-anchor="middle" fill="#1a1a1a" stroke="#1a1a1a" stroke-width="0.22" >0</text>
<rect x="0.75" y="0.75" width="518.5" height="544.5" fill="none" stroke="#000" stroke-width="1.5"/>
</g>
</svg>
</body></html>
